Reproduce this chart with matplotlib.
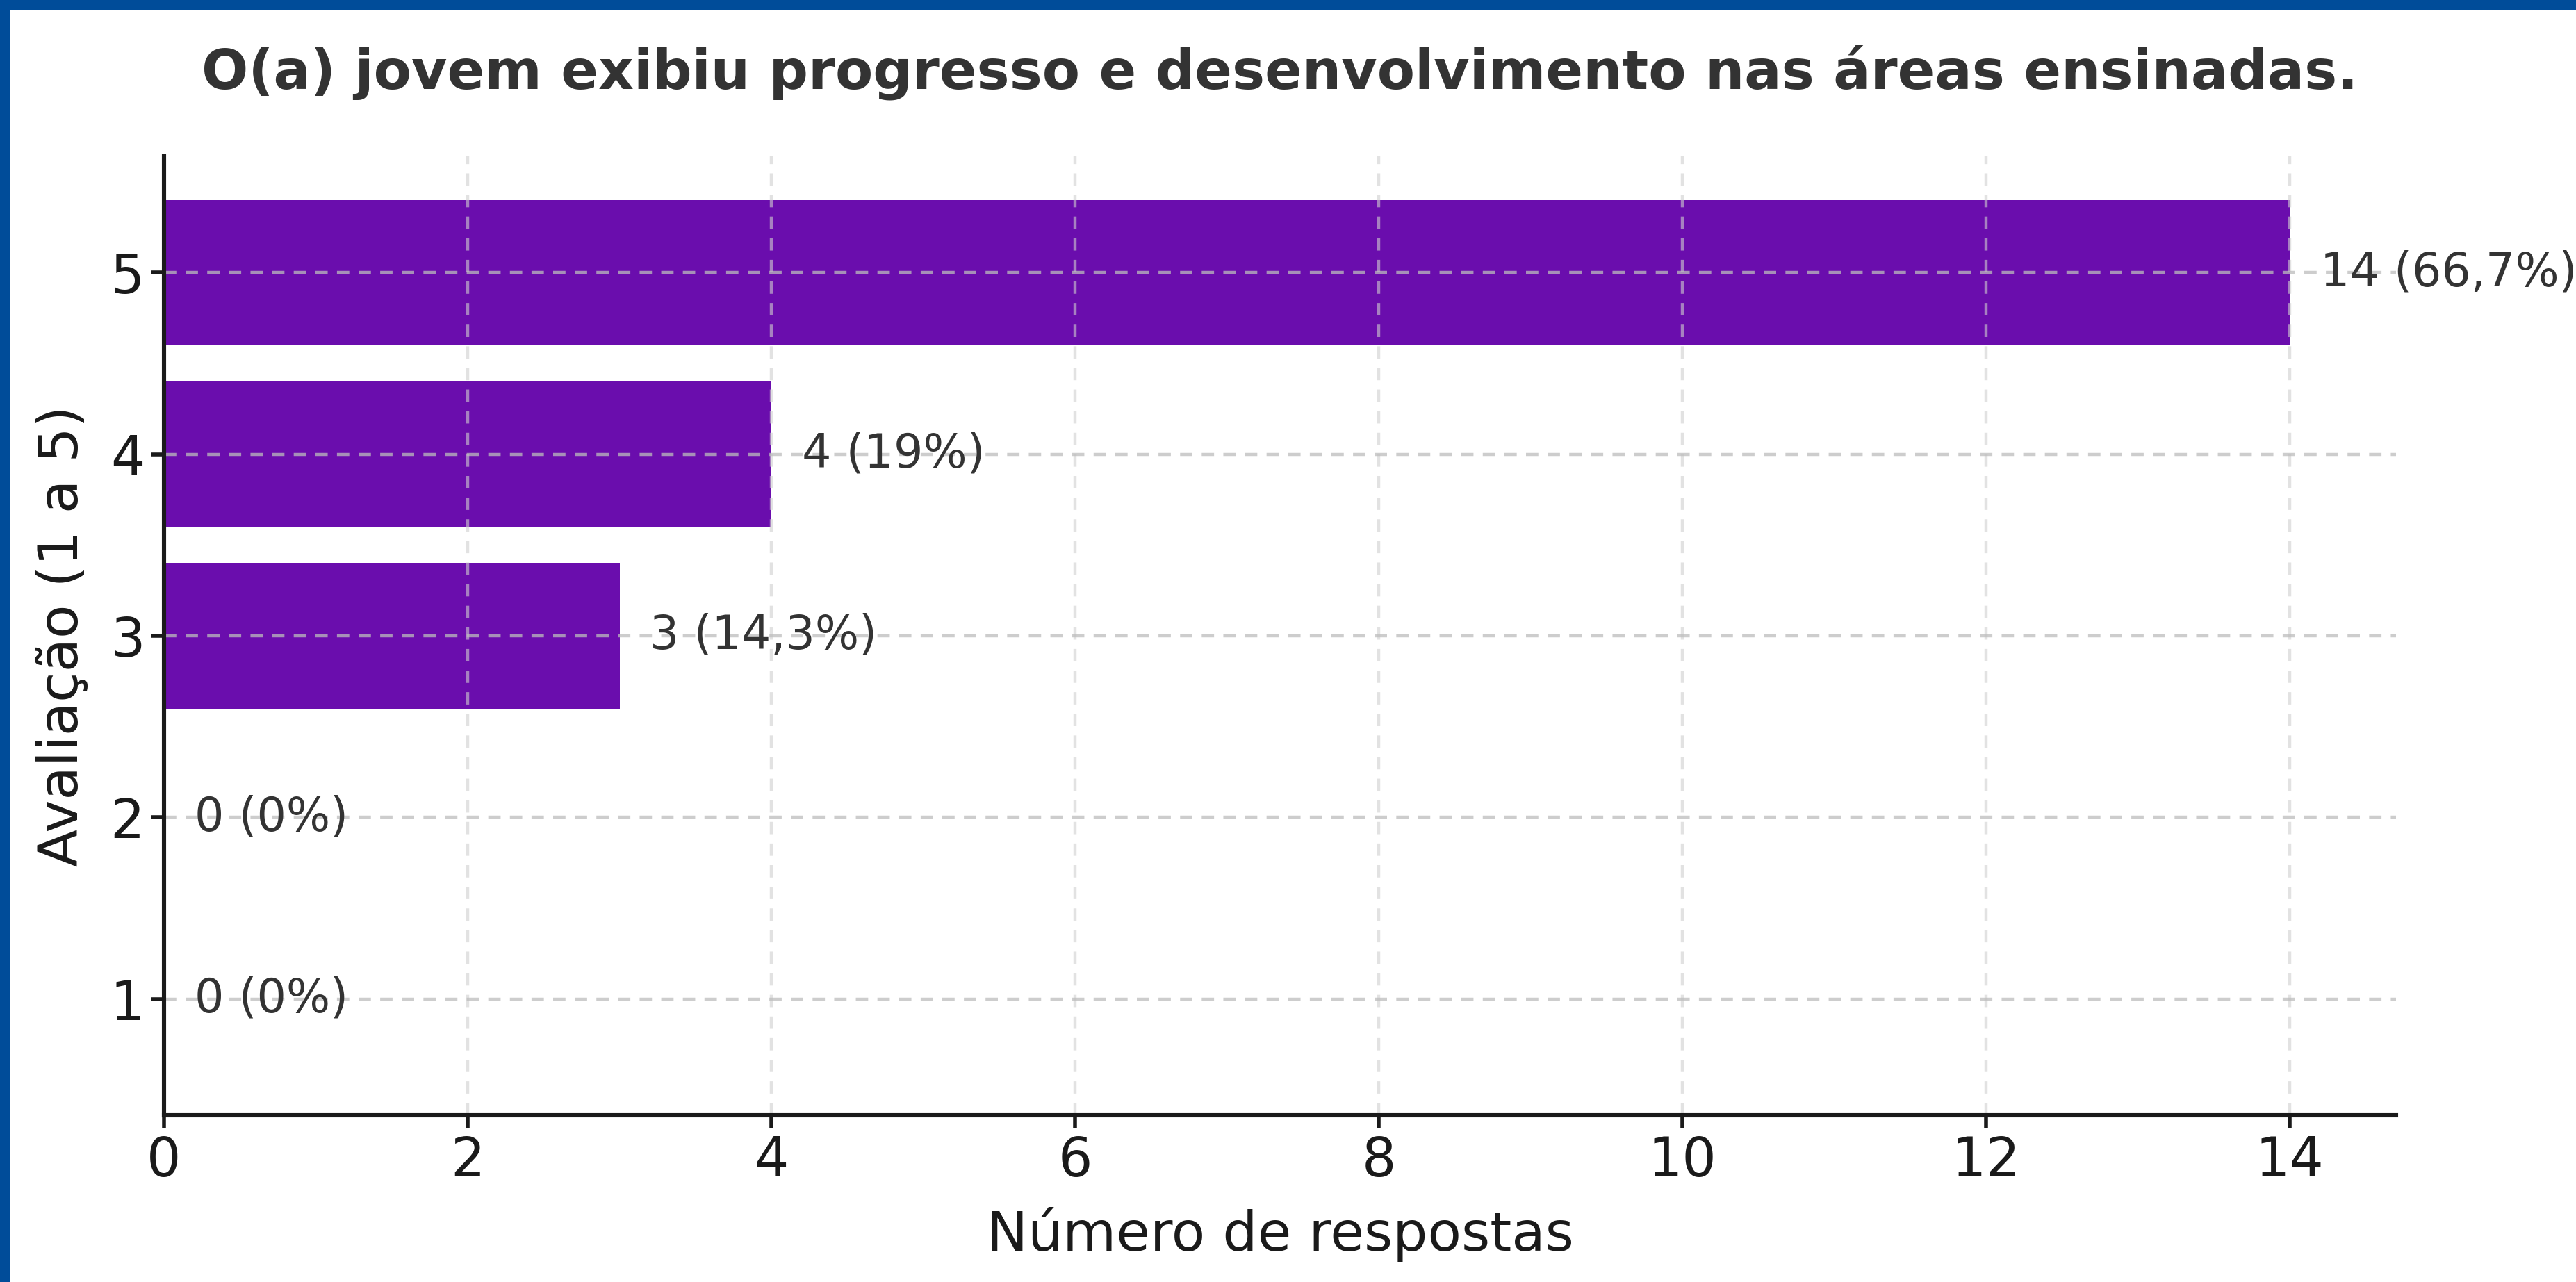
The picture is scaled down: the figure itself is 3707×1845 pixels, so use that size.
import matplotlib
matplotlib.use("Agg")
import matplotlib.pyplot as plt
from matplotlib.patches import Rectangle

ratings = [1, 2, 3, 4, 5]
counts = [0, 0, 3, 4, 14]
labels = ["0 (0%)", "0 (0%)", "3 (14,3%)", "4 (19%)", "14 (66,7%)"]
xticks = [0, 2, 4, 6, 8, 10, 12, 14]

title = "O(a) jovem exibiu progresso e desenvolvimento nas áreas ensinadas."
xlabel = "Número de respostas"
ylabel = "Avaliação (1 a 5)"

plt.rcParams['font.family'] = ['DejaVu Sans']

W, H = 3707, 1845
dpi = 200
fig = plt.figure(figsize=(W / dpi, H / dpi), dpi=dpi)
fig.patch.set_facecolor("white")

L, R, T, B = 236, 3448, 225, 1605
ax = fig.add_axes([L / W, 1 - B / H, (R - L) / W, (B - T) / H])

ax.barh(ratings, counts, height=0.8, color="#6A0DAD", zorder=1)

for r, c, lab in zip(ratings, counts, labels):
    ax.text(c + 0.2, r, lab, va="center", ha="left", fontsize=24, color="#333333", zorder=4)

ax.set_xticks(xticks)
ax.set_yticks(ratings)
ax.tick_params(axis="both", labelsize=28, colors="#1a1a1a", length=7, width=2, pad=3)

ax.grid(axis="y", linestyle="--", color="#bdbdbd", alpha=0.75, linewidth=1.6, dashes=(4, 3), zorder=2)
ax.grid(axis="x", linestyle="--", color="#d0d0d0", alpha=0.6, linewidth=1.6, dashes=(4, 3), zorder=2)
ax.set_axisbelow(False)

for s in ["top", "right"]:
    ax.spines[s].set_visible(False)
for s in ["left", "bottom"]:
    ax.spines[s].set_linewidth(2.2)
    ax.spines[s].set_color("#1a1a1a")
    ax.spines[s].set_zorder(5)

ax.set_xlabel(xlabel, fontsize=28.5, color="#1a1a1a", labelpad=10)
ax.set_ylabel(ylabel, fontsize=28.5, color="#1a1a1a", labelpad=11)

fig.text((L + R) / 2 / W, 1 - 128 / H, title, ha="center", va="baseline", fontsize=28.5,
         fontweight="bold", color="#333333")

# blue frame on top and left edges
fig.patches.append(Rectangle((0, 1 - 15 / H), 1, 15 / H, transform=fig.transFigure,
                             facecolor="#004C99", edgecolor="none", zorder=10))
fig.patches.append(Rectangle((0, 0), 14 / W, 1, transform=fig.transFigure,
                             facecolor="#004C99", edgecolor="none", zorder=10))

fig.savefig("out.png", dpi=dpi, facecolor="white")
